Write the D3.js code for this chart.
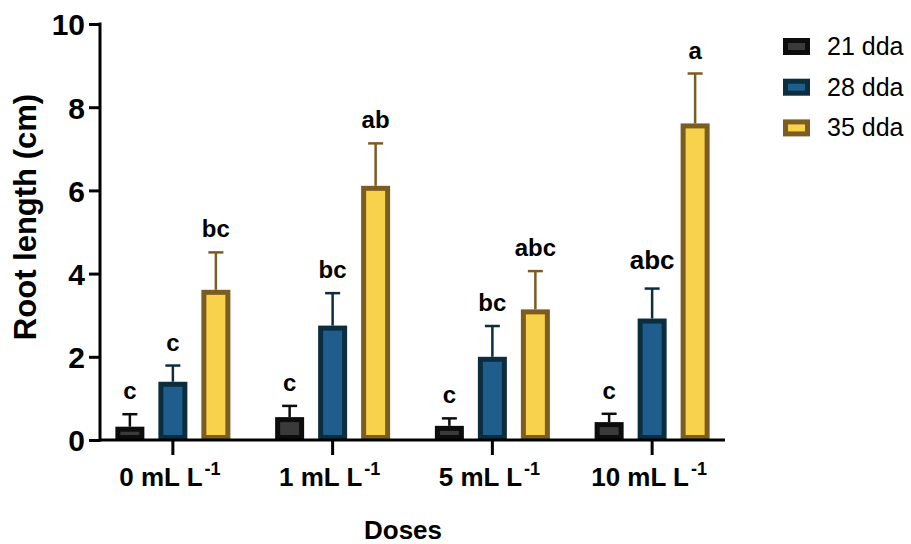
<!DOCTYPE html>
<html><head><meta charset="utf-8">
<script src="https://cdn.jsdelivr.net/npm/d3@7/dist/d3.min.js"></script>
<style>
html,body{margin:0;padding:0;background:#fff;}
svg{display:block;font-family:"Liberation Sans",Arial,Helvetica,sans-serif;}
</style></head>
<body><svg id="c" width="911" height="544"></svg>
<script>
const doses = ["0", "1", "5", "10"];
const series = ["21 dda", "28 dda", "35 dda"];
const mean21 = [0.32, 0.55, 0.34, 0.43];
const mean28 = [1.40, 2.75, 2.00, 2.92];
const mean35 = [3.61, 6.11, 3.14, 7.61];
const err21 = [0.30, 0.27, 0.18, 0.20];
const err28 = [0.39, 0.78, 0.74, 0.72];
const err35 = [0.90, 1.02, 0.92, 1.20];
const let21 = ["c", "c", "c", "c"];
const let28 = ["c", "bc", "bc", "abc"];
const let35 = ["bc", "ab", "abc", "a"];
const yTicks = [0, 2, 4, 6, 8, 10];

const fills = ["#3a3a3a", "#1e5d8c", "#f8d24b"];
const strokes = ["#0d0d0d", "#0b2d3d", "#7b5c21"];

const means = [mean21, mean28, mean35];
const errs = [err21, err28, err35];
const lets = [let21, let28, let35];

const svg = d3.select("#c");
const y = d3.scaleLinear().domain([0, 10]).range([440, 24]);
const x = d3.scaleBand().domain(doses).range([93, 732]).padding(0);
const xs = d3.scalePoint().domain(series).range([-43, 43]);

const data = [];
doses.forEach((d, i) => series.forEach((s, j) => {
  data.push({dose: d, i: i, s: s, j: j, v: means[j][i], e: errs[j][i], l: lets[j][i]});
}));
const cx = d => x(d.dose) + x.bandwidth() / 2 + xs(d.s);
const bw = 24, sw = 5;

// error bars
const eb = svg.append("g");
data.forEach(d => {
  const c = cx(d);
  eb.append("line").attr("x1", c).attr("x2", c).attr("y1", y(d.v)).attr("y2", y(d.v + d.e))
    .attr("stroke", strokes[d.j]).attr("stroke-width", 2.5);
  eb.append("line").attr("x1", c - 7.5).attr("x2", c + 7.5).attr("y1", y(d.v + d.e)).attr("y2", y(d.v + d.e))
    .attr("stroke", strokes[d.j]).attr("stroke-width", 2.5);
});

// bars
svg.append("g").selectAll("rect").data(data).join("rect")
  .attr("x", d => cx(d) - bw / 2)
  .attr("width", bw)
  .attr("y", d => y(d.v) + sw / 2)
  .attr("height", d => Math.max(0, y(0) - y(d.v) - sw))
  .attr("fill", d => fills[d.j])
  .attr("stroke", d => strokes[d.j])
  .attr("stroke-width", sw);

// letters
svg.append("g").selectAll("text").data(data).join("text")
  .attr("x", d => cx(d))
  .attr("y", d => y(d.v + d.e) - (d.i === 3 && d.j === 1 ? 20 : 15))
  .attr("text-anchor", "middle")
  .attr("font-weight", "bold")
  .attr("font-size", d => (d.i === 3 && d.j === 1 ? 26 : 24))
  .attr("fill", "#000")
  .text(d => d.l);

// y axis
const ya = svg.append("g").attr("transform", "translate(100,0)")
  .call(d3.axisLeft(y).tickValues(yTicks).tickSize(11).tickSizeOuter(0).tickPadding(4));
ya.select(".domain").remove();
ya.selectAll(".tick line").attr("stroke", "#000").attr("stroke-width", 3);
ya.selectAll(".tick text").attr("font-size", 30).attr("font-weight", "bold").attr("fill", "#000")
  .attr("font-family", "Liberation Sans, Arial, sans-serif").attr("dy", "0.36em");
svg.append("line").attr("x1", 100).attr("x2", 100).attr("y1", y(10) - 1.5).attr("y2", y(0) + 1.5)
  .attr("stroke", "#000").attr("stroke-width", 3);

// x axis
const xa = svg.append("g").attr("transform", "translate(0,440)")
  .call(d3.axisBottom(x).tickSize(15).tickSizeOuter(0).tickFormat(() => ""));
xa.select(".domain").remove();
xa.selectAll(".tick line").attr("stroke", "#000").attr("stroke-width", 3);
svg.append("line").attr("x1", 100).attr("x2", 725).attr("y1", 440).attr("y2", 440)
  .attr("stroke", "#000").attr("stroke-width", 3);

// x tick labels
doses.forEach(d => {
  const t = svg.append("text")
    .attr("x", x(d) + x.bandwidth() / 2 - 3).attr("y", 486)
    .attr("text-anchor", "middle").attr("font-weight", "bold").attr("font-size", 26).attr("fill", "#000");
  t.append("tspan").text(d + " mL L");
  t.append("tspan").attr("font-size", 18).attr("dy", -11).attr("dx", 2).text("-1");
});

// axis titles
svg.append("text").attr("x", 403).attr("y", 539).attr("text-anchor", "middle")
  .attr("font-weight", "bold").attr("font-size", 26).attr("fill", "#000").text("Doses");
svg.append("text").attr("transform", "translate(36,217) rotate(-90)").attr("text-anchor", "middle")
  .attr("font-weight", "bold").attr("font-size", 31).attr("fill", "#000").text("Root length (cm)");

// legend
const lg = svg.append("g");
series.forEach((s, j) => {
  const yy = 46.5 + j * 40.7;
  lg.append("rect").attr("x", 785.5).attr("y", yy - 6).attr("width", 22).attr("height", 12)
    .attr("fill", fills[j]).attr("stroke", strokes[j]).attr("stroke-width", sw);
  lg.append("text").attr("x", 827).attr("y", yy + 8.5).attr("font-size", 25).attr("fill", "#000").text(s);
});
</script></body></html>
